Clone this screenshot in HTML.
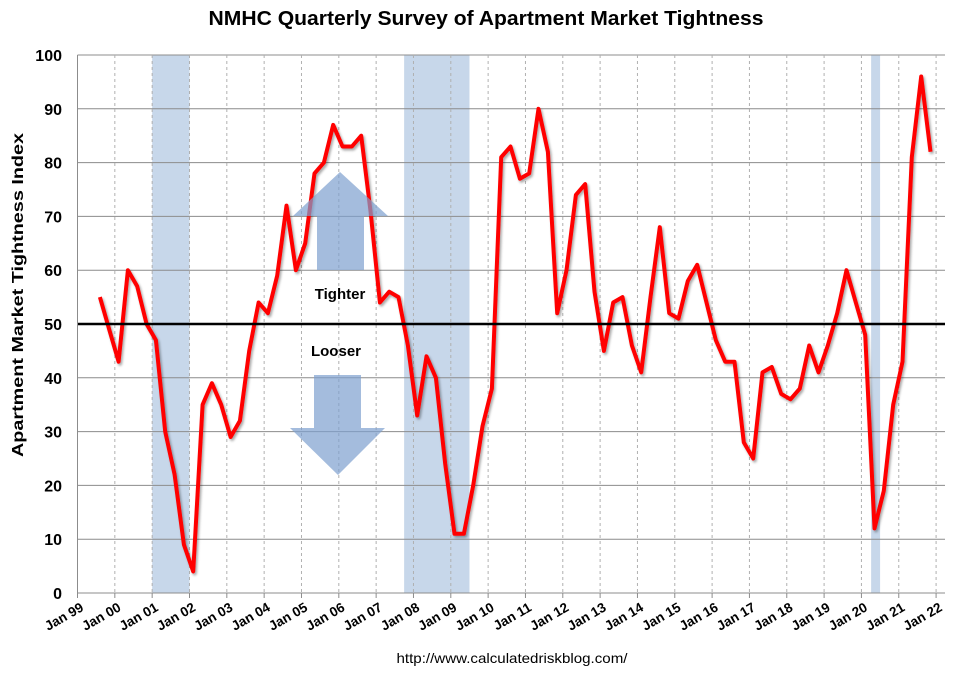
<!DOCTYPE html>
<html><head><meta charset="utf-8"><style>
body{margin:0;background:#fff;}
svg text{font-family:"Liberation Sans",Calibri,sans-serif;}
</style></head><body>
<svg id="chart" width="966" height="673" viewBox="0 0 966 673" xmlns="http://www.w3.org/2000/svg">
<defs><filter id="sh" x="-5%" y="-5%" width="110%" height="110%"><feDropShadow dx="1.5" dy="2" stdDeviation="1.2" flood-color="#000" flood-opacity="0.35"/></filter></defs>
<text x="486" y="25" text-anchor="middle" font-size="20" font-weight="bold" textLength="555" lengthAdjust="spacingAndGlyphs">NMHC Quarterly Survey of Apartment Market Tightness</text>
<text transform="translate(23,295) rotate(-90)" text-anchor="middle" font-size="16" font-weight="bold" textLength="324" lengthAdjust="spacingAndGlyphs">Apartment Market Tightness Index</text>
<text x="512" y="663" text-anchor="middle" font-size="14" textLength="231" lengthAdjust="spacingAndGlyphs">http://www.calculatedriskblog.com/</text>
<g id="bands"></g><g id="grid"></g><g id="series"></g><g id="annot"></g><g id="axes"></g>
</svg>
<script>
const values=[55,49,43,60,57,50,47,30,22,9,4,35,39,35,29,32,45,54,52,59,72,60,65,78,80,87,83,83,85,71,54,56,55,46,33,44,40,24,11,11,20,31,38,81,83,77,78,90,82,52,60,74,76,56,45,54,55,46,41,55,68,52,51,58,61,54,47,43,43,28,25,41,42,37,36,38,46,41,46,52,60,54,48,12,19,35,43,81,96,82];
const startTime=1999.6;
const yTicks=[0,10,20,30,40,50,60,70,80,90,100];
const xTickYears=[1999,2000,2001,2002,2003,2004,2005,2006,2007,2008,2009,2010,2011,2012,2013,2014,2015,2016,2017,2018,2019,2020,2021,2022];
const recessionStarts=[2001.0,2007.75,2020.26];
const recessionEnds=[2002.0,2009.5,2020.5];
const refLevel=50;
const NS='http://www.w3.org/2000/svg';
const X0=77.5,X1=945,Y0=593,Y100=55;
const xs=t=>X0+(t-1999)*37.33;
const ys=v=>Y0-(v/100)*(Y0-Y100);
function mk(tag,attrs,parent){const e=document.createElementNS(NS,tag);for(const k in attrs)e.setAttribute(k,attrs[k]);document.getElementById(parent).appendChild(e);return e;}
recessionStarts.forEach((s,i)=>{const r=mk('rect',{x:xs(s),y:Y100,width:xs(recessionEnds[i])-xs(s),height:Y0-Y100,fill:'#c7d7ea'},'bands');

});
yTicks.forEach(v=>{const l=mk('line',{x1:X0,x2:X1,y1:ys(v),y2:ys(v),stroke:'#8c8c8c','stroke-width':1},'grid');


const t=mk('text',{x:62,y:ys(v)+6,'text-anchor':'end','font-size':16,'font-weight':'bold'},'axes');t.textContent=v;

});
xTickYears.forEach(y=>{const x=xs(y);
if(y>1999){const l=mk('line',{x1:x,x2:x,y1:Y100,y2:Y0,stroke:'#b0b0b0','stroke-width':1,'stroke-dasharray':'3,3'},'grid');

}
const tk=mk('line',{x1:x,x2:x,y1:Y0,y2:Y0+5,stroke:'#8c8c8c'},'axes');


const t=mk('text',{x:x+7,y:Y0+17,'text-anchor':'end','font-size':13.5,'font-weight':'bold',transform:`rotate(-30 ${x+7} ${Y0+17})`},'axes');
t.textContent='Jan '+String(y%100).padStart(2,'0');

});
const ya=mk('line',{x1:X0,x2:X0,y1:Y100,y2:Y0,stroke:'#8c8c8c'},'axes');


const pts=values.map((v,i)=>xs(startTime+i*0.25).toFixed(1)+','+ys(v).toFixed(1)).join(' ');
const pl=mk('polyline',{points:pts,fill:'none',stroke:'#ff0000','stroke-width':4,'stroke-linejoin':'round',filter:'url(#sh)'},'series');


const ref=mk('line',{x1:X0,x2:X1,y1:ys(refLevel),y2:ys(refLevel),stroke:'#000','stroke-width':2.5},'annot');


const up=mk('polygon',{points:'340,172 388,216 364,216 364,270 317,270 317,216 293,216',fill:'#7d9fcf','fill-opacity':0.7},'annot');


const dn=mk('polygon',{points:'314,375 361,375 361,428 385,428 338,475 290,428 314,428',fill:'#7d9fcf','fill-opacity':0.7},'annot');


const t1=mk('text',{x:340,y:299,'text-anchor':'middle','font-size':15,'font-weight':'bold'},'annot');t1.textContent='Tighter';


const t2=mk('text',{x:336,y:356,'text-anchor':'middle','font-size':15,'font-weight':'bold'},'annot');t2.textContent='Looser';


</script>
</body></html>
